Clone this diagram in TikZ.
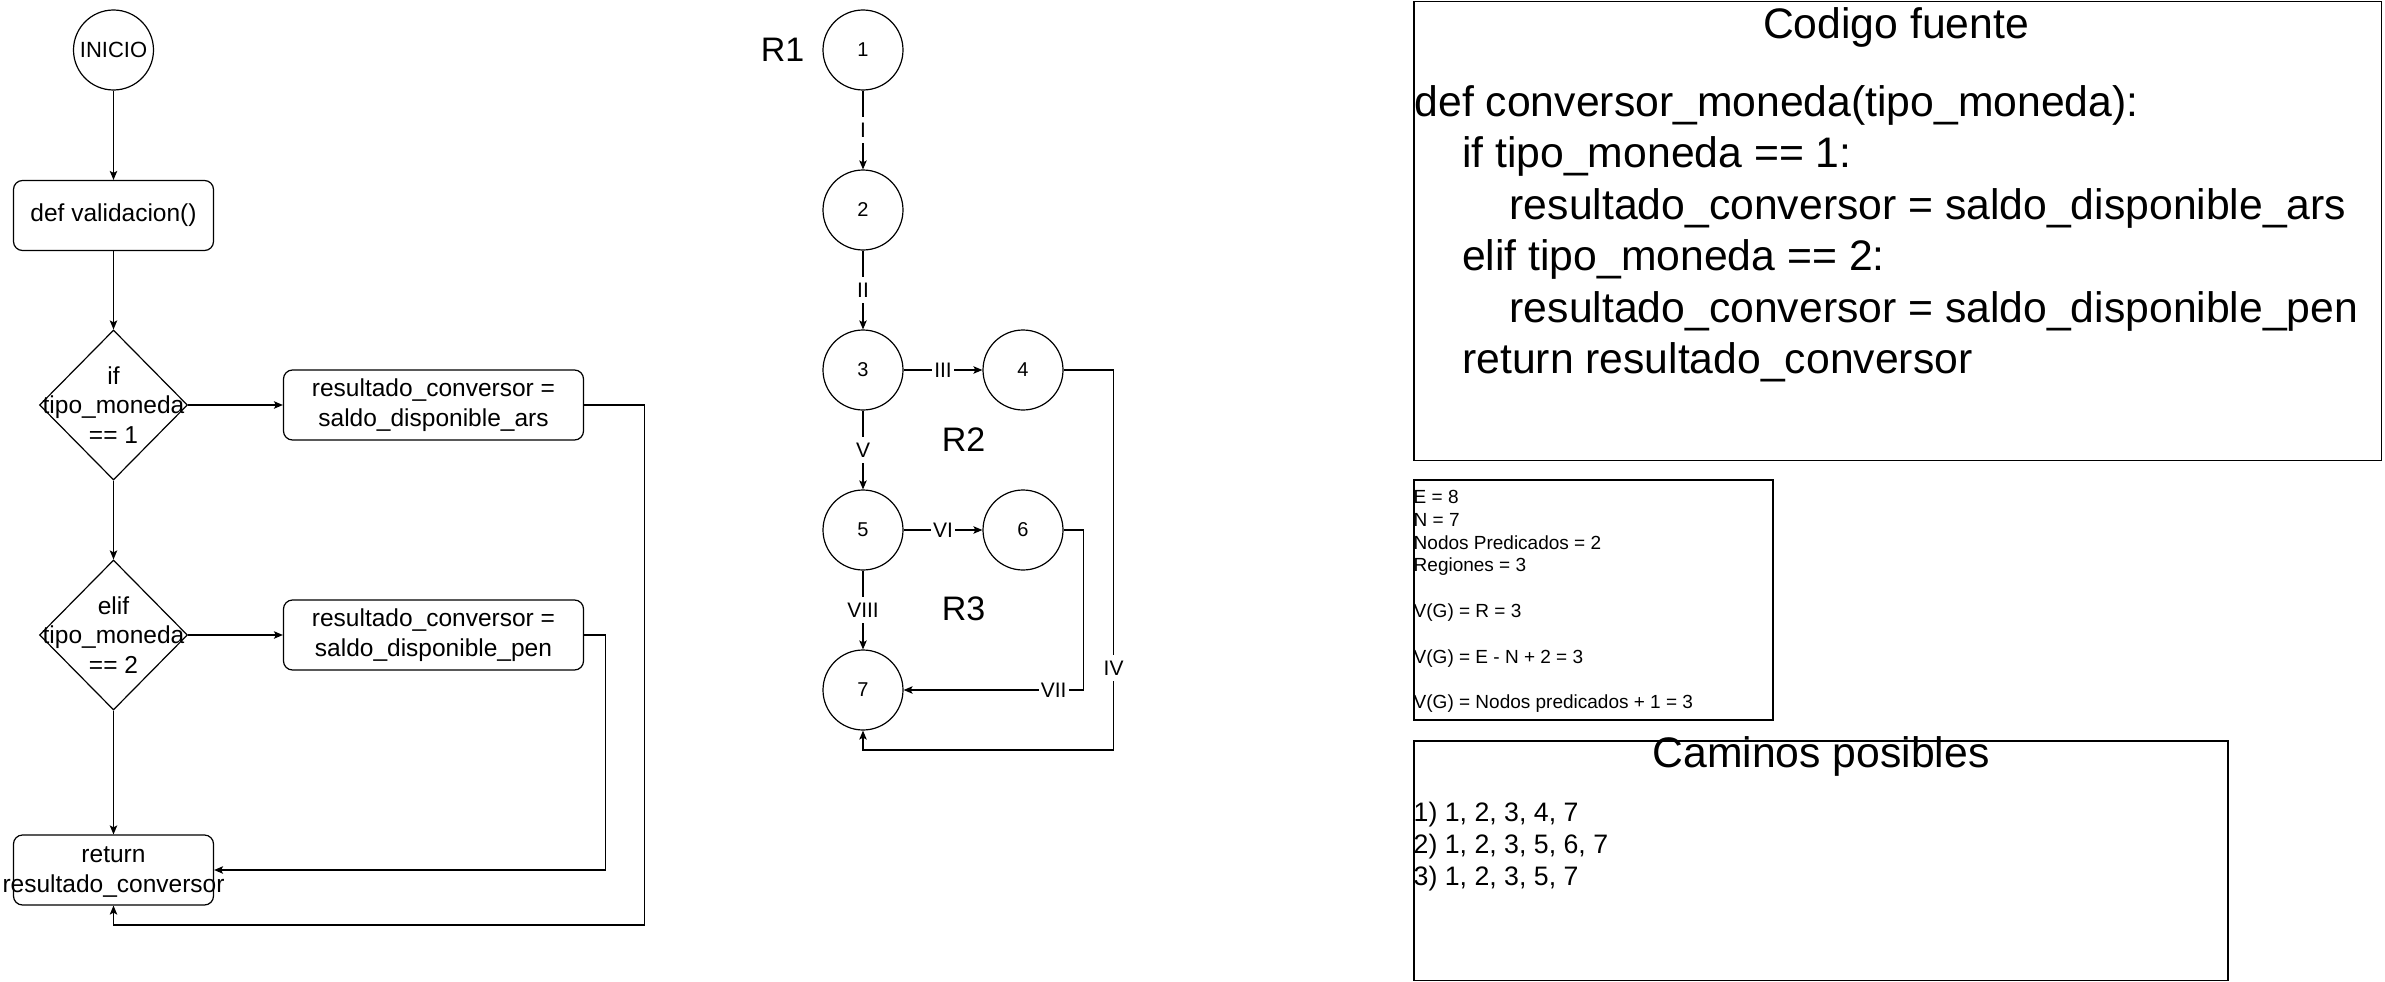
\documentclass[tikz,border=0pt]{standalone}
\usepackage{fontspec}
\setmainfont{Liberation Sans}
\usetikzlibrary{arrows.meta,shapes.geometric}
\newcommand\fsFlow{\fontsize{24.5}{29.4}\selectfont}
\newcommand\fsStart{\fontsize{22}{26}\selectfont}
\newcommand\fsNode{\fontsize{20}{24}\selectfont}
\newcommand\fsEdge{\fontsize{21}{25}\selectfont}
\newcommand\fsReg{\fontsize{34}{40}\selectfont}
\newcommand\fsCode{\fontsize{42.7}{51.2}\selectfont}
\newcommand\fsStat{\fontsize{19}{22.8}\selectfont}
\newcommand\fsPath{\fontsize{26.7}{32}\selectfont}
\tikzset{
  ln/.style={draw=black, line width=1.2pt},
  arr/.style={ln, -{Stealth[length=9pt,width=7.5pt,inset=2pt]}},
  procbox/.style={ln, rounded corners=9pt, minimum width=200pt, minimum height=70pt, inner sep=0pt, align=center, font=\fsFlow},
  widebox/.style={procbox, minimum width=300pt},
  decbox/.style={ln, diamond, minimum width=148pt, minimum height=150pt, inner sep=0pt},
  gnode/.style={ln, circle, minimum size=80pt, inner sep=0pt, font=\fsNode},
  elab/.style={fill=white, inner xsep=2pt, inner ysep=3pt, text height=17.5pt, text depth=2.5pt, font=\fsEdge},
  reglab/.style={inner sep=0pt, font=\fsReg},
  codeln/.style={anchor=base west, inner sep=0pt, font=\fsCode},
  statln/.style={anchor=base west, inner sep=0pt, font=\fsStat},
  pathln/.style={anchor=base west, inner sep=0pt, font=\fsPath},
  panel/.style={ln, inner sep=0pt},
}
\begin{document}
\begin{tikzpicture}[x=1pt,y=-1pt]
\useasboundingbox (0,0) rectangle (2385,982);

% ---------------- left flowchart ----------------
\node[ln, circle, minimum size=80pt, inner sep=0pt, font=\fsStart] (inicio) at (113.5,50) {INICIO};
\node[procbox] (valid) at (113.5,215.5) {def validacion()};
\node[decbox, label={[font=\fsFlow, align=center]center:{if\\tipo\_moneda\\== 1}}] (d1) at (113.5,405) {};
\node[widebox] (ars) at (433.5,405) {resultado\_conversor =\\saldo\_disponible\_ars};
\node[decbox, label={[font=\fsFlow, align=center]center:{elif\\tipo\_moneda\\== 2}}] (d2) at (113.5,635) {};
\node[widebox] (pen) at (433.5,635) {resultado\_conversor =\\saldo\_disponible\_pen};
\node[procbox, label={[font=\fsFlow, align=center, yshift=-2pt]center:{return\\resultado\_conversor}}] (ret) at (113.5,870) {};

\draw[arr] (inicio) -- (valid);
\draw[arr] (valid) -- (d1);
\draw[arr] (d1) -- (ars);
\draw[arr] (d1) -- (d2);
\draw[arr] (d2) -- (pen);
\draw[arr] (d2) -- (ret);
\draw[arr] (ars.east) -- ++(60,0) -- ++(0,520) -| (ret.south);
\draw[arr] (pen.east) -- ++(21,0) |- (ret.east);

% ---------------- flow graph ----------------
\node[gnode] (n1) at (863,50) {1};
\node[gnode] (n2) at (863,210) {2};
\node[gnode] (n3) at (863,370) {3};
\node[gnode] (n4) at (1023,370) {4};
\node[gnode] (n5) at (863,530) {5};
\node[gnode] (n6) at (1023,530) {6};
\node[gnode] (n7) at (863,690) {7};

\node[reglab] (r1) at (782.5,50) {R1};
\node[reglab] (r2) at (963.5,440) {R2};
\node[reglab] (r3) at (963.5,609) {R3};

\draw[arr] (n1) -- node[elab] {I} (n2);
\draw[arr] (n2) -- node[elab] {II} (n3);
\draw[arr] (n3) -- node[elab] {III} (n4);
\draw[arr] (n3) -- node[elab] {V} (n5);
\draw[arr] (n5) -- node[elab] {VI} (n6);
\draw[arr] (n5) -- node[elab] {VIII} (n7);
\draw[arr] (n6.east) -- ++(20,0) |- node[elab, pos=0.583] {VII} (n7.east);
\draw[arr] (n4.east) -- ++(50,0) -- node[elab, pos=0.784] {IV} ++(0,380) -| (n7.south);

% ---------------- source code panel ----------------
\node[panel, minimum width=967.5pt, minimum height=459pt] (codebox) at (1897.75,230.75) {};
\node[anchor=base, inner sep=0pt, font=\fsCode] (codetitle) at (1896,39) {Codigo fuente};
\node[codeln] (c1) at (1414.5,116) {def conversor\_moneda(tipo\_moneda):};
\node[codeln] (c2) at (1462,167.5) {if tipo\_moneda == 1:};
\node[codeln] (c3) at (1509.5,219) {resultado\_conversor = saldo\_disponible\_ars};
\node[codeln] (c4) at (1462,270.5) {elif tipo\_moneda == 2:};
\node[codeln] (c5) at (1509.5,322) {resultado\_conversor = saldo\_disponible\_pen};
\node[codeln] (c6) at (1462,373.5) {return resultado\_conversor};

% ---------------- complexity panel ----------------
\node[panel, minimum width=359pt, minimum height=240pt] (statbox) at (1593.5,600) {};
\node[statln] (s1) at (1413.5,503.5) {E = 8};
\node[statln] (s2) at (1413.5,526.3) {N = 7};
\node[statln] (s3) at (1413.5,549.1) {Nodos Predicados = 2};
\node[statln] (s4) at (1413.5,571.9) {Regiones = 3};
\node[statln] (s5) at (1413.5,617.5) {V(G) = R = 3};
\node[statln] (s6) at (1413.5,663.1) {V(G) = E - N + 2 = 3};
\node[statln] (s7) at (1413.5,708.7) {V(G) = Nodos predicados + 1 = 3};

% ---------------- paths panel ----------------
\node[panel, minimum width=814pt, minimum height=239.5pt] (pathbox) at (1821,860.75) {};
\node[anchor=base, inner sep=0pt, font=\fsCode] (pathtitle) at (1821,767) {Caminos posibles};
\node[pathln] (p1) at (1413.5,821) {1) 1, 2, 3, 4, 7};
\node[pathln] (p2) at (1413.5,853) {2) 1, 2, 3, 5, 6, 7};
\node[pathln] (p3) at (1413.5,885) {3) 1, 2, 3, 5, 7};
\end{tikzpicture}
\end{document}
